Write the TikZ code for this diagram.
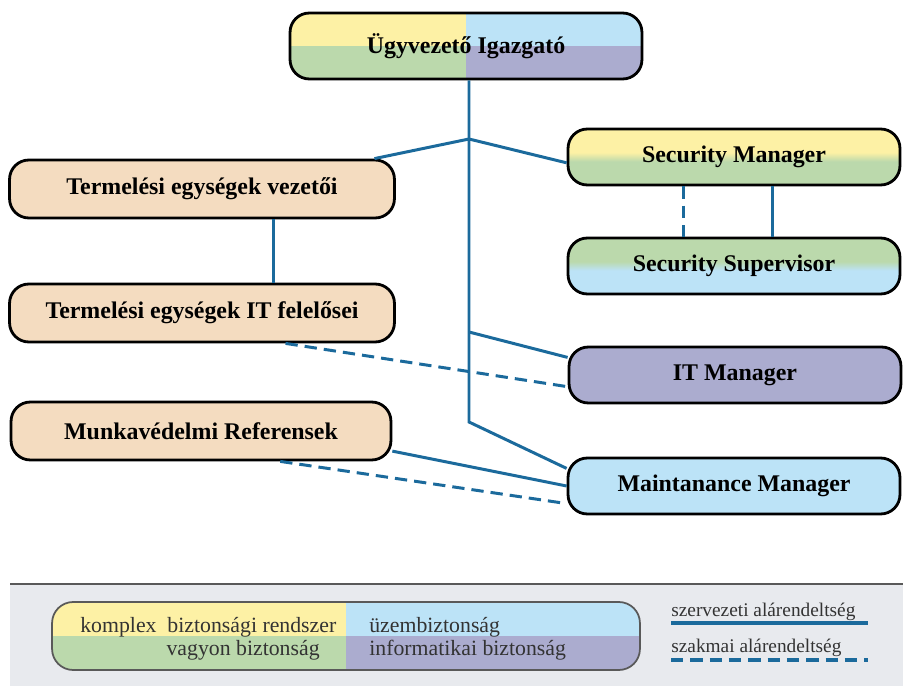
\documentclass[tikz,border=0pt]{standalone}
\usepackage{fontspec}
\setmainfont{Liberation Serif}
\definecolor{yel}{HTML}{FDF1A5}
\definecolor{sky}{HTML}{BCE3F7}
\definecolor{grn}{HTML}{BBD9AC}
\definecolor{lav}{HTML}{ABACCF}
\definecolor{peach}{HTML}{F4DCC0}
\definecolor{orgblue}{HTML}{1B6A9C}
\definecolor{band}{HTML}{E8EAEE}
\pgfdeclareverticalshading{yelgrn}{100bp}{color(0bp)=(grn); color(46bp)=(grn); color(54bp)=(yel); color(100bp)=(yel)}
\pgfdeclareverticalshading{grnsky}{100bp}{color(0bp)=(sky); color(46bp)=(sky); color(54bp)=(grn); color(100bp)=(grn)}
\tikzset{
  box/.style={draw=black, line width=1.6pt, rounded corners=11pt, inner sep=0pt,
    font=\fontsize{13.6}{16}\selectfont\bfseries},
  prod/.style={box, fill=peach, minimum width=7.7cm, minimum height=1.16cm},
  mgr/.style={box, minimum width=6.64cm, minimum height=1.12cm},
  quads/.style n args={4}{path picture={
    \fill[#1, sharp corners] (path picture bounding box.north west) rectangle (path picture bounding box.center);
    \fill[#2, sharp corners] (path picture bounding box.north east) rectangle (path picture bounding box.center);
    \fill[#3, sharp corners] (path picture bounding box.south west) rectangle (path picture bounding box.center);
    \fill[#4, sharp corners] (path picture bounding box.south east) rectangle (path picture bounding box.center);}},
  org/.style={draw=orgblue, line width=1.7pt},
  prof/.style={org, dash pattern=on 7pt off 4pt},
  legtext/.style={inner sep=0pt, text=black!80, font=\fontsize{12.4}{14}\selectfont}
}
\begin{document}
\begin{tikzpicture}[x=0.02cm, y=-0.02cm]
  \useasboundingbox (0,0) rectangle (903,686);
  \node[box, quads={yel}{sky}{grn}{lav}, minimum width=7.04cm, minimum height=1.32cm] (ceo) at (466,46) {Ügyvezető Igazgató};
  \node[prod] (tv) at (202,189) {Termelési egységek vezetői};
  \node[prod] (tit) at (202,313) {Termelési egységek IT felelősei};
  \node[prod, minimum width=7.6cm] (munka) at (201,431) {Munkavédelmi Referensek};
  \node[mgr, shading=yelgrn] (secman) at (734,157) {Security Manager};
  \node[mgr, shading=grnsky] (secsup) at (734,266) {Security Supervisor};
  \node[mgr, fill=lav] (itman) at (735,375) {IT Manager};
  \node[mgr, fill=sky] (maint) at (734,486) {Maintanance Manager};
  \coordinate (j1) at (469,139);
  \coordinate (j2) at (469,332);
  \coordinate (j3) at (469,422);
  \coordinate (sd) at (683,0);
  \coordinate (ss) at (772,0);
  \draw[org] (ceo.south -| j1) -- (j3) -- (maint.174);
  \draw[org] (tv.10) -- (j1) -- (secman.182);
  \draw[org] (j2) -- (itman.174);
  \draw[org] (tv.-23) -- (tit.23);
  \draw[prof] (tit.-20) -- (itman.184);
  \draw[org] (munka.-6) -- (maint.west);
  \draw[prof] (munka.-21) -- (maint.186);
  \draw[prof] (secman.south -| sd) -- (secsup.north -| sd);
  \draw[org] (secman.south -| ss) -- (secsup.north -| ss);
  \fill[band] (10,584) rectangle (903,686);
  \draw[black!65, line width=1.6pt] (10,584) -- (903,584);
  \node[draw=black!65, line width=1pt, rounded corners=12pt, inner sep=0pt,
    quads={yel}{sky}{grn}{lav}, minimum width=11.76cm, minimum height=1.36cm] (leg) at (346,636) {};
  \node[legtext, anchor=west] (lk) at (80,627) {komplex\ \ biztonsági rendszer};
  \node[legtext, anchor=east] (lv) at (320,650) {vagyon biztonság};
  \node[legtext, anchor=west] (lu) at (369,627) {üzembiztonság};
  \node[legtext, anchor=west] (li) at (369,650) {informatikai biztonság};
  \node[legtext, anchor=west, font=\fontsize{11}{13}\selectfont] (lo) at (671,612) {szervezeti alárendeltség};
  \node[legtext, anchor=west, font=\fontsize{11}{13}\selectfont] (lp) at (671,648) {szakmai alárendeltség};
  \draw[org, line width=2.2pt] (671,623) -- (868,623);
  \draw[prof, line width=2.2pt] (671,660) -- (868,660);
\end{tikzpicture}
\end{document}
